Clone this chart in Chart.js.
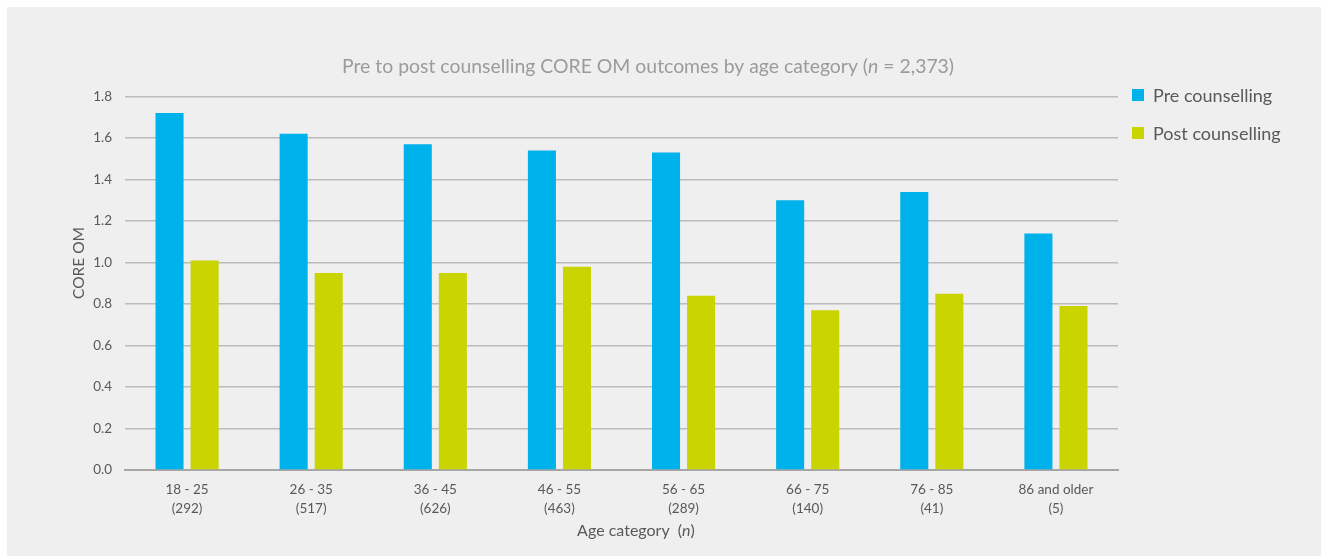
<!DOCTYPE html>
<html>
<head>
<meta charset="utf-8">
<script src="https://cdn.jsdelivr.net/npm/chart.js@4/dist/chart.umd.min.js"></script>
<style>
  html, body { margin: 0; padding: 0; background: #ffffff; }
  #wrap {
    position: absolute;
    left: 7px;
    top: 7px;
    width: 1314px;
    height: 549px;
    background: #efefef;
  }
</style>
</head>
<body>
<div id="wrap"><canvas id="chart"></canvas></div>
<script>
const categories = ["18 - 25", "26 - 35", "36 - 45", "46 - 55", "56 - 65", "66 - 75", "76 - 85", "86 and older"];
const counts = [292, 517, 626, 463, 289, 140, 41, 5];
const preValues = [1.72, 1.62, 1.57, 1.54, 1.53, 1.30, 1.34, 1.14];
const postValues = [1.01, 0.95, 0.95, 0.98, 0.84, 0.77, 0.85, 0.79];
const yTicks = [0, 0.2, 0.4, 0.6, 0.8, 1.0, 1.2, 1.4, 1.6, 1.8];

const FONT = "Lato, 'Open Sans', sans-serif";
const TEXT = "#595959";

// write a run of text pieces, some italic, centred on x
function drawRich(ctx, parts, x, y, size, color) {
  let total = 0;
  parts.forEach(p => {
    ctx.font = (p.italic ? "italic " : "") + size + "px " + FONT;
    p.w = ctx.measureText(p.text).width;
    total += p.w;
  });
  let cx = x - total / 2;
  ctx.fillStyle = color;
  ctx.textBaseline = "middle";
  ctx.textAlign = "left";
  parts.forEach(p => {
    ctx.font = (p.italic ? "italic " : "") + size + "px " + FONT;
    ctx.fillText(p.text, cx, y);
    cx += p.w;
  });
}

const decor = {
  id: "decor",
  afterDraw(chart) {
    const ctx = chart.ctx;
    ctx.save();

    drawRich(ctx, [
      { text: "Pre to post counselling CORE OM outcomes by age category (" },
      { text: "n", italic: true },
      { text: " = 2,373)" }
    ], 641, 60, 19.4, "#9b9b9b");

    drawRich(ctx, [
      { text: "Age category  (" },
      { text: "n", italic: true },
      { text: ")" }
    ], 629, 524, 16, TEXT);

    // y axis title
    ctx.save();
    ctx.translate(72, 256);
    ctx.rotate(-Math.PI / 2);
    drawRich(ctx, [{ text: "CORE OM" }], 0, 0, 15.5, TEXT);
    ctx.restore();

    // legend
    chart.data.datasets.forEach((ds, i) => {
      const y = 88 + i * 38;
      ctx.fillStyle = ds.backgroundColor;
      ctx.fillRect(1125, y - 6, 12, 12);
      ctx.fillStyle = TEXT;
      ctx.font = "18px " + FONT;
      ctx.textBaseline = "middle";
      ctx.textAlign = "left";
      ctx.fillText(ds.label, 1146, y + 1);
    });

    ctx.restore();
  }
};

new Chart(document.getElementById("chart"), {
  type: "bar",
  data: {
    labels: categories.map((c, i) => [c, "(" + counts[i] + ")"]),
    datasets: [
      {
        label: "Pre counselling",
        data: preValues,
        backgroundColor: "#00b2eb",
        categoryPercentage: 0.565,
        barPercentage: 0.8
      },
      {
        label: "Post counselling",
        data: postValues,
        backgroundColor: "#cad400",
        categoryPercentage: 0.565,
        barPercentage: 0.8
      }
    ]
  },
  options: {
    responsive: true,
    maintainAspectRatio: false,
    animation: false,
    layout: {
      padding: { left: 78, right: 203, top: 89.5, bottom: 36 }
    },
    plugins: {
      legend: { display: false },
      title: { display: false },
      tooltip: { enabled: false }
    },
    scales: {
      x: {
        grid: { display: false, drawTicks: false },
        border: { display: true, color: "#a6a6a6", width: 2 },
        ticks: {
          color: TEXT,
          font: { family: FONT, size: 13.5, lineHeight: 1.35 },
          padding: 11,
          maxRotation: 0,
          autoSkip: false
        },
        afterFit(scale) { scale.height = 50; }
      },
      y: {
        min: 0,
        max: 1.8,
        afterBuildTicks(scale) {
          scale.ticks = yTicks.map(v => ({ value: v }));
        },
        grid: { color: "#bcbcbc", lineWidth: 1.5, drawTicks: false },
        border: { display: false },
        ticks: {
          color: TEXT,
          font: { family: FONT, size: 13.5 },
          padding: 13,
          callback: v => v.toFixed(1)
        },
        afterFit(scale) { scale.width = 40; }
      }
    }
  },
  plugins: [decor]
});
</script>
</body>
</html>
